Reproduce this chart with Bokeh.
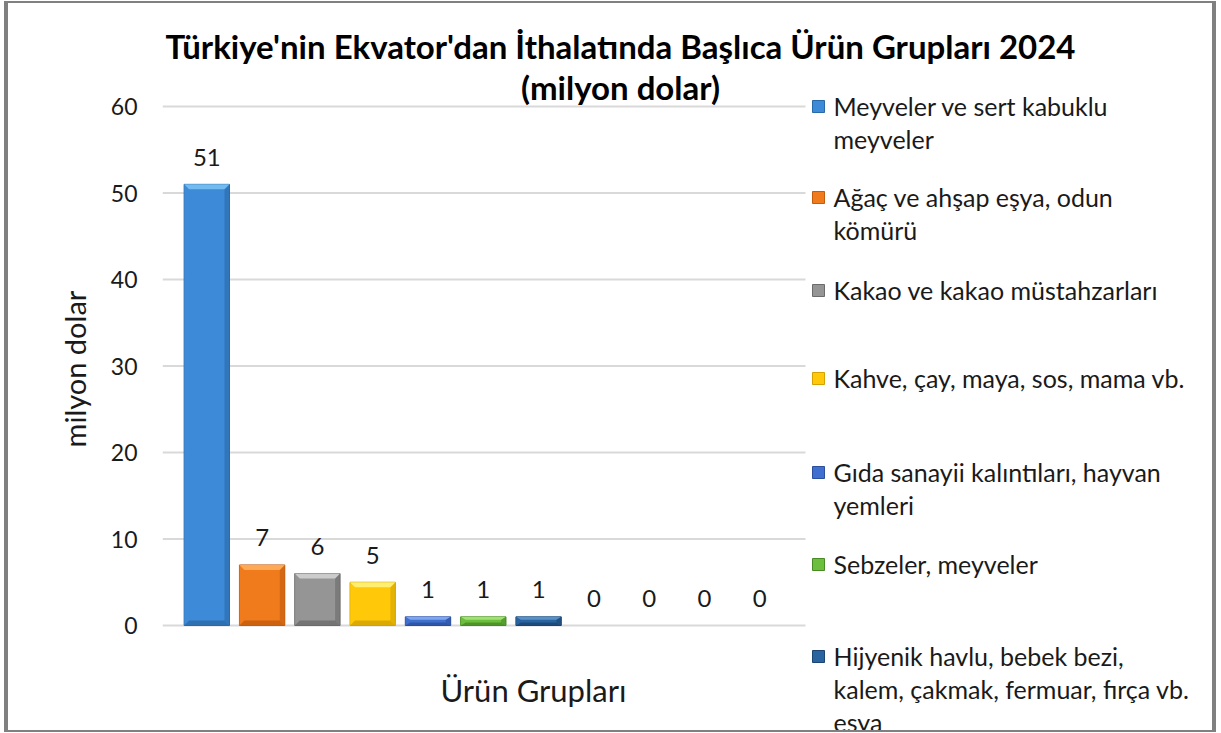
from bokeh.plotting import figure
from bokeh.models import Range1d, FixedTicker, ColumnDataSource
from bokeh.core.properties import value
from bokeh.embed import file_html
from bokeh.resources import INLINE

# ---------------- data ----------------
title_lines = ["Türkiye'nin Ekvator'dan İthalatında Başlıca Ürün Grupları 2024", "(milyon dolar)"]
y_axis_title = "milyon dolar"
x_axis_title = "Ürün Grupları"
legend_names = [
    "Meyveler ve sert kabuklu\nmeyveler",
    "Ağaç ve ahşap eşya, odun\nkömürü",
    "Kakao ve kakao müstahzarları",
    "Kahve, çay, maya, sos, mama vb.",
    "Gıda sanayii kalıntıları, hayvan\nyemleri",
    "Sebzeler, meyveler",
    "Hijyenik havlu, bebek bezi,\nkalem, çakmak, fermuar, fırça vb.\neşya",
]
values = [51, 7, 6, 5, 1, 1, 1, 0, 0, 0, 0]
y_ticks = [0, 10, 20, 30, 40, 50, 60]

main_colors = ["#3d8bd8", "#f07b1c", "#959595", "#ffc90a", "#3f70cf", "#6cbf3c", "#2a64a0"]
light_colors = ["#78c0f4", "#ffae5c", "#d2d2d2", "#fff27a", "#86adf2", "#a9e47a", "#5f96cb"]
dark_colors = ["#2a69a8", "#c35c0c", "#6b6b6b", "#d2a300", "#2b4f9c", "#488a24", "#1b4470"]

# ---------------- layout (reference pixel positions) ----------------
BOX_L, BOX_T, BOX_R, BOX_B = 4, 1, 1216, 732   # outer edges of the bordered box (page px)
BW_SIDE, BW_TB = 4, 2                         # border widths
W, H = BOX_R - BOX_L, BOX_B - BOX_T           # element (and canvas) size
ORIGIN_X, ORIGIN_Y = BOX_L + BW_SIDE, BOX_T + BW_TB   # canvas top-left (page px)
FRAME_LEFT = 162
Y0_PX, Y60_PX = 625, 106
BAR0_PX, BAR_STEP = 206.3, 55.3
GRID_RIGHT = 805
PPU_Y = (Y0_PX - Y60_PX) / 60.0

def rx(px):
    return (px - BAR0_PX) / BAR_STEP

def ry(py):
    return (Y0_PX - py) / PPU_Y

x_start, x_end = rx(FRAME_LEFT), rx(ORIGIN_X + W)
y_start, y_end = ry(ORIGIN_Y + H), ry(ORIGIN_Y)

FONT = "Lato"
BORDER = "#808080"

p = figure(width=W, height=H, x_range=Range1d(x_start, x_end), y_range=Range1d(y_start, y_end),
           output_backend="svg", toolbar_location=None, x_axis_location=None,
           min_border_left=FRAME_LEFT - ORIGIN_X, min_border_right=0, min_border_top=0, min_border_bottom=0,
           outline_line_color=None, background_fill_color="white", border_fill_color="white",
           styles={"border-style": "solid", "border-color": BORDER,
                   "border-width": f"{BW_TB}px {BW_SIDE}px {BW_TB}px {BW_SIDE}px",
                   "position": "relative", "left": f"{BOX_L}px", "top": f"{BOX_T}px"})

p.xgrid.visible = False
p.ygrid.visible = False

yax = p.yaxis[0]
yax.ticker = FixedTicker(ticks=y_ticks)
yax.axis_line_color = None
yax.major_tick_line_color = None
yax.minor_tick_line_color = None
yax.major_tick_out = 0
yax.major_tick_in = 0
yax.major_label_standoff = 25
yax.major_label_text_font = FONT
yax.major_label_text_font_size = "23px"
yax.major_label_text_color = "#1a1a1a"
yax.axis_label = y_axis_title
yax.axis_label_text_font = FONT
yax.axis_label_text_font_size = "29px"
yax.axis_label_text_font_style = "normal"
yax.axis_label_text_color = "#1a1a1a"
yax.axis_label_standoff = 16

# gridlines (only across the bar area)
p.segment(x0=[x_start] * len(y_ticks), y0=y_ticks, x1=[rx(GRID_RIGHT)] * len(y_ticks), y1=y_ticks,
          line_color="#d9d9d9", line_width=2)

# bars with bevel
BAR_W = 0.82
bx = 5.0 / BAR_STEP
xs = list(range(len(values)))
nz = [i for i, v in enumerate(values) if v > 0]
src = ColumnDataSource(dict(x=[xs[i] for i in nz], top=[values[i] for i in nz],
                            fill=[main_colors[i] for i in nz], line=[dark_colors[i] for i in nz]))
p.vbar(x="x", top="top", bottom=0, width=BAR_W, fill_color="fill", line_color="line", line_width=1, source=src)

top_xs, top_ys, top_c = [], [], []
bot_xs, bot_ys, bot_c = [], [], []
lft_xs, lft_ys, lft_c = [], [], []
rgt_xs, rgt_ys, rgt_c = [], [], []
for i in nz:
    v = values[i]
    x0, x1 = xs[i] - BAR_W / 2, xs[i] + BAR_W / 2
    by = min(5.0 / PPU_Y, v / 3.0)
    top_xs.append([x0, x1, x1 - bx, x0 + bx]); top_ys.append([v, v, v - by, v - by]); top_c.append(light_colors[i])
    bot_xs.append([x0, x1, x1 - bx, x0 + bx]); bot_ys.append([0, 0, by, by]); bot_c.append(dark_colors[i])
    lft_xs.append([x0, x0, x0 + bx, x0 + bx]); lft_ys.append([0, v, v - by, by]); lft_c.append(main_colors[i])
    rgt_xs.append([x1, x1, x1 - bx, x1 - bx]); rgt_ys.append([0, v, v - by, by]); rgt_c.append(dark_colors[i])
p.patches(lft_xs, lft_ys, fill_color=lft_c, fill_alpha=0.6, line_color=None)
p.patches(rgt_xs, rgt_ys, fill_color=rgt_c, fill_alpha=0.6, line_color=None)
p.patches(bot_xs, bot_ys, fill_color=bot_c, fill_alpha=0.8, line_color=None)
p.patches(top_xs, top_ys, fill_color=top_c, fill_alpha=0.9, line_color=None)

# value labels
p.text(x=xs, y=values, text=[str(v) for v in values], y_offset=-27,
       text_align="center", text_baseline="middle", text_font=value(FONT),
       text_font_size="24px", text_color="#1a1a1a")

# title
p.text(x=[rx(620), rx(620)], y=[ry(45), ry(86)], text=title_lines,
       text_align="center", text_baseline="middle", text_font=value(FONT),
       text_font_size="33px", text_font_style="bold", text_color="black")

# x-axis title
p.text(x=[rx(440)], y=[ry(689)], text=[x_axis_title], text_align="left", text_baseline="middle",
       text_font=value(FONT), text_font_size="31px", text_color="#1a1a1a")

# legend
LEG_SQ_X, LEG_TXT_X, LINE_H = 818, 833, 33
leg_first_y = [105, 196, 289, 377, 471, 563, 655]
sq_x, sq_y, sq_c, sq_l = [], [], [], []
t_x, t_y, t_s = [], [], []
for k, name in enumerate(legend_names):
    sq_x.append(rx(LEG_SQ_X)); sq_y.append(ry(leg_first_y[k] + 1))
    sq_c.append(main_colors[k]); sq_l.append(dark_colors[k])
    for j, line in enumerate(name.split("\n")):
        t_x.append(rx(LEG_TXT_X)); t_y.append(ry(leg_first_y[k] + j * LINE_H)); t_s.append(line)
p.rect(x=sq_x, y=sq_y, width=12, height=12, width_units="screen", height_units="screen",
       fill_color=sq_c, line_color=sq_l, line_width=1)
p.text(x=t_x, y=t_y, text=t_s, text_align="left", text_baseline="middle", text_font=value(FONT),
       text_font_size="25px", text_color="#1a1a1a")

open("out.html", "w").write(file_html(p, INLINE))
